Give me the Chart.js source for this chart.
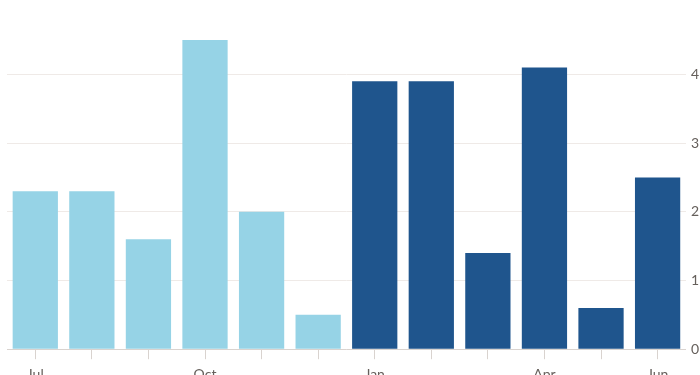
<!DOCTYPE html>
<html lang="en">
<head>
    <meta charset="UTF-8">
    <title>Monthly change</title>
    <script src="https://cdn.jsdelivr.net/npm/chart.js"></script>
    <style>
        html, body {
            margin: 0;
            padding: 0;
            background: #fff;
            overflow: hidden;
        }
        #wrap {
            width: 700px;
            height: 375px;
            overflow: hidden;
            position: relative;
        }
        #chart-box {
            position: absolute;
            left: 0;
            top: 0;
            width: 700px;
            height: 390px;
        }
    </style>
</head>
<body>
    <div id="wrap">
        <div id="chart-box">
            <canvas id="barChart"></canvas>
        </div>
    </div>

    <script>
        // months, Jul to Jun
        const months = ['Jul', 'Aug', 'Sep', 'Oct', 'Nov', 'Dec', 'Jan', 'Feb', 'Mar', 'Apr', 'May', 'Jun'];
        const shownLabels = ['Jul', 'Oct', 'Jan', 'Apr', 'Jun'];
        const values = [2.3, 2.3, 1.6, 4.5, 2.0, 0.5, 3.9, 3.9, 1.4, 4.1, 0.6, 2.5];
        // first six months light, rest dark
        const isLaterPeriod = [false, false, false, false, false, false, true, true, true, true, true, true];
        const yTicks = [0, 1, 2, 3, 4];

        const lightBlue = '#96d3e6';
        const darkBlue = '#1f558d';

        const ctx = document.getElementById('barChart').getContext('2d');
        new Chart(ctx, {
            type: 'bar',
            data: {
                labels: months,
                datasets: [{
                    data: values,
                    backgroundColor: isLaterPeriod.map(l => l ? darkBlue : lightBlue),
                    borderWidth: 0,
                    barPercentage: 1,
                    categoryPercentage: 0.8
                }]
            },
            options: {
                responsive: true,
                maintainAspectRatio: false,
                animation: false,
                layout: {
                    padding: { top: 40, left: 7, right: -4, bottom: 0 }
                },
                plugins: {
                    legend: { display: false },
                    tooltip: { enabled: false }
                },
                scales: {
                    x: {
                        grid: {
                            offset: false,
                            drawOnChartArea: false,
                            drawTicks: true,
                            tickLength: 10,
                            color: '#d9d3cf'
                        },
                        border: {
                            display: true,
                            color: '#d9d3cf'
                        },
                        ticks: {
                            autoSkip: false,
                            maxRotation: 0,
                            padding: 7,
                            color: '#66605c',
                            font: { family: 'Lato', size: 14 },
                            callback: function (val, i) {
                                const m = months[i];
                                return shownLabels.includes(m) ? m : '';
                            }
                        }
                    },
                    y: {
                        position: 'right',
                        min: 0,
                        max: 4.5,
                        afterBuildTicks: axis => {
                            axis.ticks = yTicks.map(v => ({ value: v }));
                        },
                        grid: {
                            drawTicks: false,
                            color: '#efeae7'
                        },
                        border: { display: false },
                        ticks: {
                            padding: 5,
                            color: '#66605c',
                            font: { family: 'Lato', size: 14 }
                        }
                    }
                }
            }
        });
    </script>
</body>
</html>
